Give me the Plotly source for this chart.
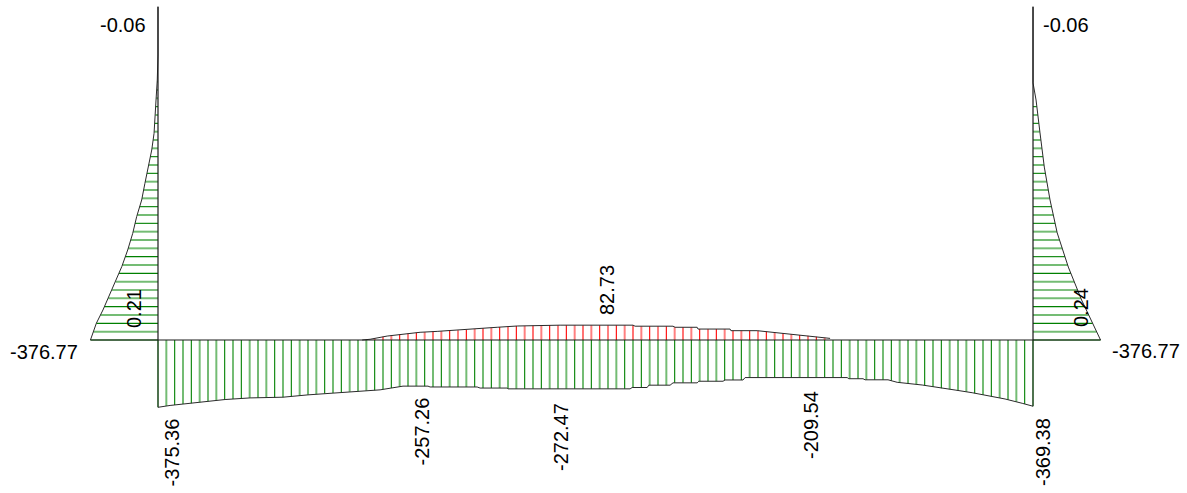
import numpy as np
import plotly.graph_objects as go

# ---- frame geometry (m) ----
SPAN = 21.0      # beam length
HEIGHT = 8.0     # column height

# ---- beam bending-moment envelope (kN·m) ----
# lower (hogging) envelope: station along beam (m) and moment
beam_x_neg = [0.00, 0.29, 1.01, 1.61, 2.21, 3.00, 3.60, 4.20, 4.80, 5.33, 5.57,
              5.88, 6.48, 6.53, 7.66, 7.73, 8.38, 8.40, 11.33, 11.38, 11.74,
              11.78, 12.29, 12.36, 12.94, 12.98, 13.56, 13.61, 14.04, 14.09,
              16.54, 16.58, 16.92, 16.97, 17.52, 17.74, 18.34, 18.72, 19.13,
              19.54, 19.92, 20.33, 20.74, 21.00]
beam_m_neg = [-375.36, -365.0, -347.0, -332.0, -323.0, -319.0, -306.0, -295.0,
              -286.0, -278.0, -269.0, -257.26, -257.26, -262.0, -262.0, -268.0,
              -268.0, -272.47, -272.47, -265.0, -265.0, -252.0, -252.0, -239.0,
              -239.0, -230.0, -230.0, -223.0, -223.0, -209.54, -209.54, -216.0,
              -216.0, -222.0, -222.0, -236.0, -251.0, -266.0, -279.0, -294.0,
              -312.0, -329.0, -353.0, -369.38]

# upper (sagging) envelope
beam_x_pos = [4.90, 5.09, 5.50, 5.88, 6.29, 6.70, 7.30, 7.68, 8.14, 8.62, 9.65,
              11.40, 11.45, 12.36, 12.41, 12.94, 12.96, 13.73, 13.75, 14.38,
              14.86, 15.34, 15.82, 16.13]
beam_m_pos = [0.0, 4.0, 22.0, 33.0, 43.0, 48.0, 56.0, 63.0, 71.0, 78.0, 82.73,
              82.73, 77.0, 77.0, 71.0, 71.0, 61.0, 61.0, 52.0, 52.0, 41.0,
              30.0, 18.0, 9.0]

# labelled stations on the lower envelope (indices into beam_m_neg)
beam_neg_labelled = [0, 11, 17, 29, 43]

# ---- column moments (kN·m), height above base (m) ----
col_h_left = [0.00, 0.40, 0.72, 1.36, 1.76, 2.16, 2.56, 2.96, 3.36, 3.76, 4.16,
              4.56, 4.96, 5.36, 5.76, 6.24, 6.84, 8.00]
col_m_left = [-376.77, -344.0, -307.0, -240.0, -202.0, -169.0, -141.0, -119.0,
              -91.0, -73.0, -54.0, -35.0, -22.0, -15.0, -11.0, -4.0, -0.06, -0.06]

col_h_right = [0.00, 0.96, 1.75, 2.57, 3.36, 4.15, 4.97, 5.76, 6.17, 8.00]
col_m_right = [-376.77, -271.0, -197.0, -135.0, -95.0, -63.0, -39.0, -17.0,
               -0.06, -0.06]

# extra section values printed on the columns
col_note_left = "0.21"
col_note_right = "0.24"

# ---- drawing scales ----
PX_PER_M = 41.667                  # screen pixels per metre of frame
MOMENT_SCALE = 0.1793 / PX_PER_M   # metres of diagram per kN·m
HATCH = 0.2                        # hatch pitch (m)

W, H = 1187, 493
X0_PX, Y0_PX = 158.0, 340.0        # screen position of the left beam end


def to_x(px):
    return (px - X0_PX) / PX_PER_M


def to_y(py):
    return (Y0_PX - py) / PX_PER_M


DARK_G, LIGHT_G = "#008000", "#74bc74"
DARK_R, LIGHT_R = "#ff0000", "#ff8080"
OUTLINE = "#2a2a2a"

fig = go.Figure()


def add_segments(segs, color, width):
    xs, ys = [], []
    for (xa, ya, xb, yb) in segs:
        xs += [xa, xb, None]
        ys += [ya, yb, None]
    fig.add_trace(go.Scatter(x=xs, y=ys, mode="lines", hoverinfo="skip",
                             line=dict(color=color, width=width)))


def add_hatch(segs, dark, light):
    add_segments(segs[0::2], dark, 1.1)
    add_segments(segs[1::2], light, 2.0)


# beam hatching (vertical)
bx = np.arange(0.0, SPAN + 1e-6, HATCH)
neg_segs = [(x, 0.0, x, np.interp(x, beam_x_neg, beam_m_neg) * MOMENT_SCALE)
            for x in bx]
add_hatch(neg_segs, DARK_G, LIGHT_G)

pos_segs = [(x, 0.0, x, np.interp(x, beam_x_pos, beam_m_pos) * MOMENT_SCALE)
            for x in bx if beam_x_pos[0] < x < beam_x_pos[-1]]
add_hatch(pos_segs, DARK_R, LIGHT_R)

# column hatching (horizontal)
hh = np.arange(0.0, col_h_left[-3] + 1e-6, HATCH)
left_segs = [(0.0, h, np.interp(h, col_h_left, col_m_left) * MOMENT_SCALE, h)
             for h in hh]
add_hatch(left_segs, DARK_G, LIGHT_G)

hh_r = np.arange(0.0, col_h_right[-3] + 1e-6, HATCH)
right_segs = [(SPAN, h, SPAN - np.interp(h, col_h_right, col_m_right) * MOMENT_SCALE, h)
              for h in hh_r]
add_hatch(right_segs, DARK_G, LIGHT_G)

# diagram outlines
outline_traces = [
    ([0.0] + beam_x_neg + [SPAN],
     [0.0] + [m * MOMENT_SCALE for m in beam_m_neg] + [0.0]),
    (beam_x_pos, [m * MOMENT_SCALE for m in beam_m_pos]),
    ([m * MOMENT_SCALE for m in col_m_left], col_h_left),
    ([SPAN - m * MOMENT_SCALE for m in col_m_right], col_h_right),
]
for xs, ys in outline_traces:
    fig.add_trace(go.Scatter(x=xs, y=ys, mode="lines", hoverinfo="skip",
                             line=dict(color=OUTLINE, width=1)))

# frame members
frame_x = [0.0, 0.0, None, 0.0, SPAN, None, SPAN, SPAN,
           None, col_m_left[0] * MOMENT_SCALE, 0.0,
           None, SPAN, SPAN - col_m_right[0] * MOMENT_SCALE]
frame_y = [0.0, HEIGHT, None, 0.0, 0.0, None, 0.0, HEIGHT,
           None, 0.0, 0.0, None, 0.0, 0.0]
fig.add_trace(go.Scatter(x=frame_x, y=frame_y, mode="lines", hoverinfo="skip",
                         line=dict(color="#1a1a1a", width=1.2)))

# value labels (text, screen x, screen y, angle)
neg_label_pos = [(171.5, 453.0), (421.5, 432.0), (561.0, 437.0),
                 (811.0, 425.0), (1043.0, 452.0)]
labels = [
    (f"{col_m_left[-1]:.2f}", 122.7, 25.3, 0),
    (f"{col_m_right[-1]:.2f}", 1066.0, 25.3, 0),
    (f"{col_m_left[0]:.2f}", 43.5, 351.5, 0),
    (f"{col_m_right[0]:.2f}", 1146.0, 351.0, 0),
    (col_note_left, 134.0, 309.0, -90),
    (col_note_right, 1081.0, 308.0, -90),
    (f"{max(beam_m_pos):.2f}", 607.0, 290.0, -90),
]
for idx, (px, py) in zip(beam_neg_labelled, neg_label_pos):
    labels.append((f"{beam_m_neg[idx]:.2f}", px, py, -90))

for text, px, py, ang in labels:
    fig.add_annotation(x=to_x(px), y=to_y(py), text=text, showarrow=False,
                       textangle=ang, xanchor="center", yanchor="middle",
                       font=dict(family="Liberation Sans, Arial", size=20,
                                 color="#000000"))

fig.update_layout(
    width=W, height=H,
    margin=dict(l=0, r=0, t=0, b=0),
    paper_bgcolor="white", plot_bgcolor="white",
    showlegend=False,
    xaxis=dict(range=[to_x(0), to_x(W)], visible=False, fixedrange=True),
    yaxis=dict(range=[to_y(H), to_y(0)], visible=False, fixedrange=True),
)

fig.write_html("out.html")
